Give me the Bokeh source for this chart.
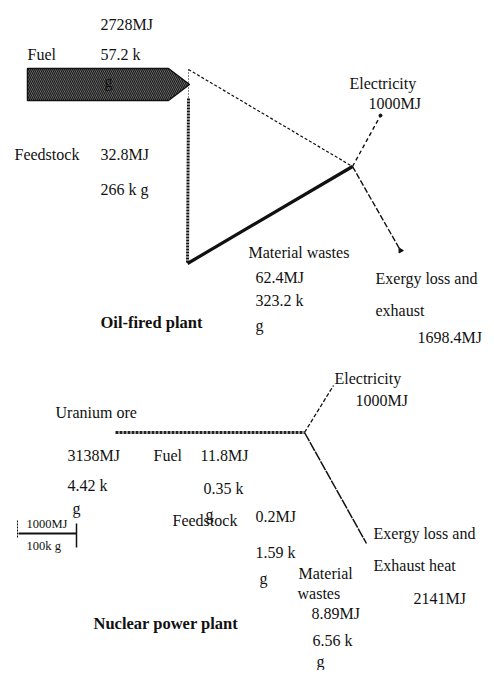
from bokeh.plotting import figure
from bokeh.models import Range1d, ColumnDataSource
from bokeh.core.properties import value
from bokeh.embed import file_html
from bokeh.resources import INLINE

# ---------------- data ----------------
oil_flows = ["Fuel", "Feedstock", "Electricity", "Material wastes", "Exergy loss and exhaust"]
oil_exergy_mj = [2728, 32.8, 1000, 62.4, 1698.4]
oil_mass_kg = [57.2, 266, None, 323.2, None]

nuc_flows = ["Uranium ore", "Fuel", "Feedstock", "Electricity", "Material wastes", "Exergy loss and Exhaust heat"]
nuc_exergy_mj = [3138, 11.8, 0.2, 1000, 8.89, 2141]
nuc_mass_kg = [4.42, 0.35, 1.59, None, 6.56, None]

plant_titles = ["Oil-fired plant", "Nuclear power plant"]
scale_labels = ["1000MJ", "100k g"]


def mj(v):
    return f"{v:g}MJ"


def kg(v):
    return f"{v:g} k"


FONT = value("Liberation Serif")
INK = "#111111"
W, H = 486, 670

p = figure(width=W, height=H, x_range=Range1d(0, W), y_range=Range1d(H, 0),
           output_backend="svg", toolbar_location=None, min_border=0,
           x_axis_location=None, y_axis_location=None)
p.grid.visible = False
p.outline_line_color = None
p.background_fill_color = "white"
p.border_fill_color = "white"

# ---------------- layout (pixel anchors) ----------------
# oil-fired plant
ARROW_X0, ARROW_X1, ARROW_TIP = 27, 168, 189
ARROW_TOP, ARROW_BOT = 68, 100
TRI_TL = (188, 69)
TRI_BL = (187, 263)
TRI_R = (352, 166)
OIL_ELEC_END = (380, 115)
OIL_LOSS_END = (400, 250)

# nuclear plant
NUC_X0, NUC_J = (115, 432), (304, 432)
NUC_ELEC_END = (333, 385)
NUC_LOSS_END = (366, 543)

# ---------------- oil-fired plant marks ----------------
ay = (ARROW_TOP + ARROW_BOT) / 2
p.patch([ARROW_X0, ARROW_X1, ARROW_TIP, ARROW_X1, ARROW_X0],
        [ARROW_TOP, ARROW_TOP, ay, ARROW_BOT, ARROW_BOT],
        fill_color="#7c7c7c", line_color=INK, line_width=1.5,
        hatch_pattern="left_diagonal_line", hatch_color="#1a1a1a",
        hatch_scale=4, hatch_weight=1.2)

# triangle (plant node)
p.line([TRI_TL[0], TRI_R[0]], [TRI_TL[1], TRI_R[1]], line_color=INK, line_width=1.2, line_dash="3 2")
p.line([TRI_TL[0], TRI_BL[0]], [ay + 14, TRI_BL[1]], line_color=INK, line_width=3, line_dash="2 1")
p.line([TRI_TL[0], TRI_TL[0]], [TRI_TL[1], ay + 14], line_color=INK, line_width=1, line_dash="1 2")
p.line([TRI_BL[0], TRI_R[0]], [TRI_BL[1], TRI_R[1]], line_color=INK, line_width=3.2)

# outputs
p.line([TRI_R[0], OIL_ELEC_END[0]], [TRI_R[1], OIL_ELEC_END[1]], line_color=INK, line_width=1.4, line_dash="4 3")
p.scatter([OIL_ELEC_END[0]], [OIL_ELEC_END[1]], size=3, color=INK)
p.line([TRI_R[0], OIL_LOSS_END[0]], [TRI_R[1], OIL_LOSS_END[1]], line_color=INK, line_width=1.4, line_dash="6 2")
p.scatter([OIL_LOSS_END[0]], [OIL_LOSS_END[1]], marker="triangle", size=5, angle=2.6, color=INK)

# ---------------- nuclear plant marks ----------------
p.line([NUC_X0[0], NUC_J[0]], [NUC_X0[1], NUC_J[1]], line_color="#222222", line_width=3, line_dash="3 1")
p.line([NUC_J[0], NUC_ELEC_END[0]], [NUC_J[1], NUC_ELEC_END[1]], line_color=INK, line_width=1.3, line_dash="4 2")
p.line([NUC_J[0], NUC_LOSS_END[0]], [NUC_J[1], NUC_LOSS_END[1]], line_color=INK, line_width=1.5, line_dash="10 1")

# scale bar
p.line([18, 76], [533, 533], line_color=INK, line_width=2)
p.line([76, 76], [523, 547], line_color=INK, line_width=1.5)
p.line([17, 17], [520, 537], line_color=INK, line_width=1, line_dash="2 1")

# ---------------- texts ----------------
g = "g"
texts = [
    (mj(oil_exergy_mj[0]), 100, 24),
    (oil_flows[0], 27, 54),
    (kg(oil_mass_kg[0]), 100, 54),
    (g, 104, 81),
    (oil_flows[1], 14, 154),
    (mj(oil_exergy_mj[1]), 100, 154),
    (kg(oil_mass_kg[1]) + " g", 100, 189),
    (oil_flows[2], 349, 83),
    (mj(oil_exergy_mj[2]), 368, 103),
    (oil_flows[3], 248, 252),
    (mj(oil_exergy_mj[3]), 255, 277),
    (kg(oil_mass_kg[3]), 255, 300),
    (g, 255, 325),
    (oil_flows[4][:15], 375, 278),
    (oil_flows[4][16:], 375, 310),
    (mj(oil_exergy_mj[4]), 417, 337),

    (nuc_flows[0], 55, 412),
    (mj(nuc_exergy_mj[0]), 67, 455),
    (kg(nuc_mass_kg[0]), 67, 485),
    (g, 72, 508),
    (nuc_flows[1], 153, 455),
    (mj(nuc_exergy_mj[1]), 200, 455),
    (kg(nuc_mass_kg[1]), 203, 488),
    (g, 205, 514),
    (nuc_flows[2], 172, 520),
    (mj(nuc_exergy_mj[2]), 255, 516),
    (kg(nuc_mass_kg[2]), 255, 552),
    (g, 259, 578),
    (nuc_flows[3], 334, 378),
    (mj(nuc_exergy_mj[3]), 355, 400),
    (nuc_flows[5][:15], 373, 533),
    (nuc_flows[5][16:], 373, 565),
    (mj(nuc_exergy_mj[5]), 413, 598),
    (nuc_flows[4].split()[0], 298, 573),
    (nuc_flows[4].split()[1], 297, 593),
    (mj(nuc_exergy_mj[4]), 311, 613),
    (kg(nuc_mass_kg[4]), 312, 640),
    (g, 316, 661),
]
src = ColumnDataSource(dict(text=[t[0] for t in texts], x=[t[1] for t in texts], y=[t[2] for t in texts]))
p.text(x="x", y="y", text="text", source=src, text_font=FONT, text_font_size="16px",
       text_baseline="middle", text_align="left", text_color=INK)

bold_src = ColumnDataSource(dict(text=plant_titles, x=[100, 93], y=[322, 623]))
p.text(x="x", y="y", text="text", source=bold_src, text_font=FONT, text_font_size="16.5px",
       text_font_style="bold", text_baseline="middle", text_align="left", text_color=INK)

small_src = ColumnDataSource(dict(text=scale_labels, x=[26, 26], y=[523, 545]))
p.text(x="x", y="y", text="text", source=small_src, text_font=FONT, text_font_size="12.5px",
       text_baseline="middle", text_align="left", text_color=INK)

open("out.html", "w").write(file_html(p, INLINE))
